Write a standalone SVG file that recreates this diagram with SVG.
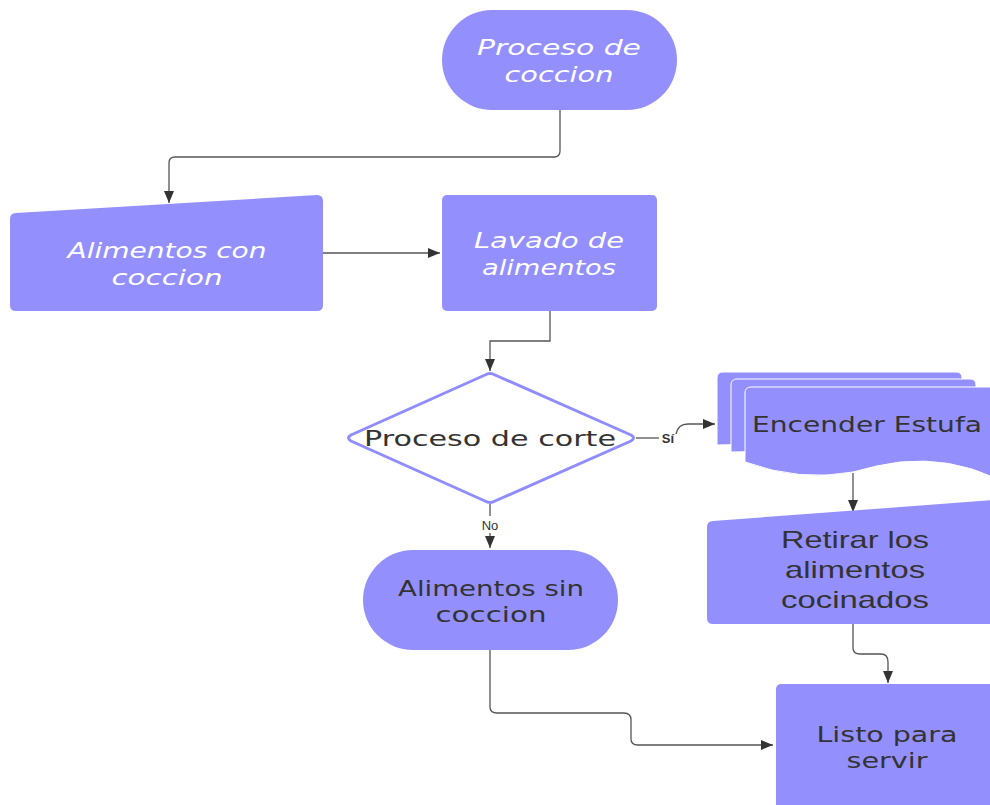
<svg xmlns="http://www.w3.org/2000/svg" width="990" height="805" viewBox="0 0 990 805">
  <defs>
    <marker id="arrow" viewBox="0 0 12 10" refX="12" refY="5" markerWidth="12" markerHeight="10" markerUnits="userSpaceOnUse" orient="auto">
      <path d="M0,0 L12,5 L0,10 Z" fill="#333"/>
    </marker>
    <style>
      .shape { fill: #9390fe; }
      .wtxt { fill: #ffffff; font-family: "DejaVu Sans", "Liberation Sans", sans-serif; font-weight: 300; font-style: italic; font-size: 22px; text-anchor: middle; }
      .dtxt { fill: #333333; font-family: "DejaVu Sans", "Liberation Sans", sans-serif; font-size: 21px; text-anchor: middle; }
      .atxt { fill: #333333; font-family: "Liberation Sans", Arial, sans-serif; font-size: 24px; text-anchor: middle; }
      .edge { fill: none; stroke: #555; stroke-width: 1.3; }
      .elabel { fill: #333; font-family: "Liberation Sans", Arial, sans-serif; font-size: 13px; text-anchor: middle; }
    </style>
  </defs>

  <rect width="990" height="805" fill="#ffffff"/>

  <!-- connectors -->
  <g id="connectors">
    <path class="edge" d="M560,110 V151 Q560,157 554,157 H175 Q169,157 169,163 V203" marker-end="url(#arrow)"/>
    <path class="edge" d="M323,253 H440" marker-end="url(#arrow)"/>
    <path class="edge" d="M550,311 V341 H490 V371" marker-end="url(#arrow)"/>
    <path class="edge" d="M636,438 H659"/>
    <path class="edge" d="M676,434 Q678,424 688,424 H715" marker-end="url(#arrow)"/>
    <text class="elabel" x="668" y="443" font-weight="bold">Sí</text>
    <path class="edge" d="M490,504 V516"/>
    <path class="edge" d="M490,533 V548" marker-end="url(#arrow)"/>
    <text class="elabel" x="490" y="530">No</text>
    <path class="edge" d="M853,473 V512" marker-end="url(#arrow)"/>
    <path class="edge" d="M853,624 V648 Q853,654 860,654 H881 Q888,654 888,662 V683" marker-end="url(#arrow)"/>
    <path class="edge" d="M490,650 V707 Q490,713 497,713 H624 Q631,713 631,720 V739 Q631,745 638,745 H773" marker-end="url(#arrow)"/>
  </g>

  <!-- start terminal -->
  <g id="proceso-coccion">
    <rect class="shape" x="442" y="10" width="235" height="100" rx="50"/>
    <text class="wtxt" x="559" y="55" textLength="164" lengthAdjust="spacingAndGlyphs">Proceso de</text>
    <text class="wtxt" x="559" y="82" textLength="109" lengthAdjust="spacingAndGlyphs">coccion</text>
  </g>

  <!-- manual input -->
  <g id="alimentos-con-coccion">
    <path class="shape" d="M16,213 L317,195 Q323,195 323,201 V305 Q323,311 317,311 H16 Q10,311 10,305 V219 Q10,213 16,213 Z"/>
    <text class="wtxt" x="167" y="258" textLength="199" lengthAdjust="spacingAndGlyphs">Alimentos con</text>
    <text class="wtxt" x="167" y="285" textLength="111" lengthAdjust="spacingAndGlyphs">coccion</text>
  </g>

  <!-- process -->
  <g id="lavado-alimentos">
    <rect class="shape" x="442" y="195" width="215" height="116" rx="5"/>
    <text class="wtxt" x="549" y="248" textLength="150" lengthAdjust="spacingAndGlyphs">Lavado de</text>
    <text class="wtxt" x="549" y="275" textLength="134" lengthAdjust="spacingAndGlyphs">alimentos</text>
  </g>

  <!-- decision -->
  <g id="proceso-corte">
    <path d="M485,375 Q490,372 495,375 L631,435 Q636,438 631,441 L495,501 Q490,504 485,501 L351,441 Q346,438 351,435 Z" fill="#ffffff" stroke="#8f8cff" stroke-width="3" stroke-linejoin="round"/>
    <text class="dtxt" x="490" y="446" textLength="252" lengthAdjust="spacingAndGlyphs">Proceso de corte</text>
  </g>

  <!-- multi-document -->
  <g id="encender-estufa">
    <path class="shape" stroke="#ffffff" stroke-width="1" d="M723,372 H956 Q962,372 962,378 V440 L717,445 V378 Q717,372 723,372 Z"/>
    <path class="shape" stroke="#ffffff" stroke-width="1" d="M737,379 H970 Q976,379 976,385 V448 L731,452 V385 Q731,379 737,379 Z"/>
    <path class="shape" stroke="#ffffff" stroke-width="1" d="M751,387 H995 V478 Q950,457 900,462 Q877,465 853,472 Q800,482 745,462 V393 Q745,387 751,387 Z"/>
    <text class="dtxt" x="867" y="432" textLength="230" lengthAdjust="spacingAndGlyphs">Encender Estufa</text>
  </g>

  <!-- manual input -->
  <g id="retirar-alimentos">
    <path class="shape" d="M713,521 L995,500 V624 H713 Q707,624 707,618 V527 Q707,521 713,521 Z"/>
    <text class="atxt" x="855" y="548" textLength="148" lengthAdjust="spacingAndGlyphs">Retirar los</text>
    <text class="atxt" x="855" y="578" textLength="140" lengthAdjust="spacingAndGlyphs">alimentos</text>
    <text class="atxt" x="855" y="608" textLength="148" lengthAdjust="spacingAndGlyphs">cocinados</text>
  </g>

  <!-- terminal -->
  <g id="alimentos-sin-coccion">
    <rect class="shape" x="363" y="550" width="255" height="100" rx="50"/>
    <text class="dtxt" x="491" y="596" textLength="186" lengthAdjust="spacingAndGlyphs">Alimentos sin</text>
    <text class="dtxt" x="491" y="622" textLength="111" lengthAdjust="spacingAndGlyphs">coccion</text>
  </g>

  <!-- process -->
  <g id="listo-servir">
    <rect class="shape" x="776" y="684" width="230" height="140" rx="5"/>
    <text class="dtxt" x="887" y="742" textLength="141" lengthAdjust="spacingAndGlyphs">Listo para</text>
    <text class="dtxt" x="887" y="768" textLength="81" lengthAdjust="spacingAndGlyphs">servir</text>
  </g>
</svg>
